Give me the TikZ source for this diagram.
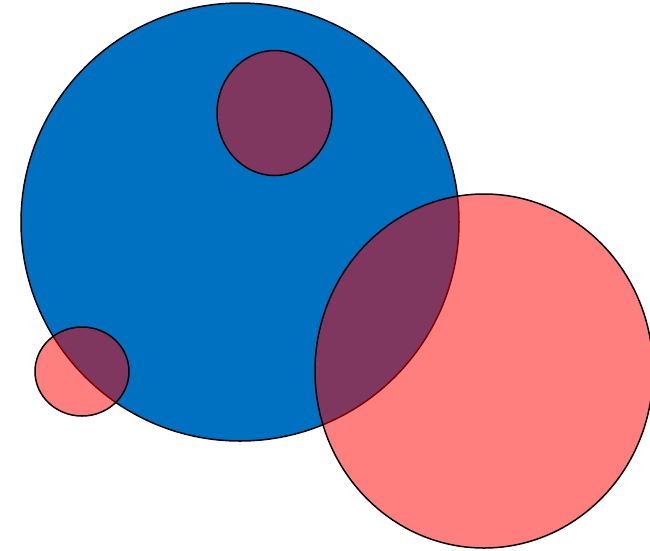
\documentclass[tikz,border=0pt]{standalone}
\definecolor{myblue}{HTML}{0070C0}
\begin{document}
\begin{tikzpicture}[x=1pt,y=-1pt,
  bluedisc/.style={draw=black,line width=1.5pt,fill=myblue},
  reddisc/.style={draw=black,line width=1.5pt,fill=red,fill opacity=0.5}]
\useasboundingbox (0,0) rectangle (650,550);
\path[bluedisc] (240,222) ellipse [x radius=219,y radius=219];
\path[reddisc] (274.5,113) ellipse [x radius=57.5,y radius=62.5];
\path[reddisc] (82,371.5) ellipse [x radius=47,y radius=44.5];
\path[reddisc] (484,371) ellipse [x radius=169,y radius=177];
\end{tikzpicture}
\end{document}
